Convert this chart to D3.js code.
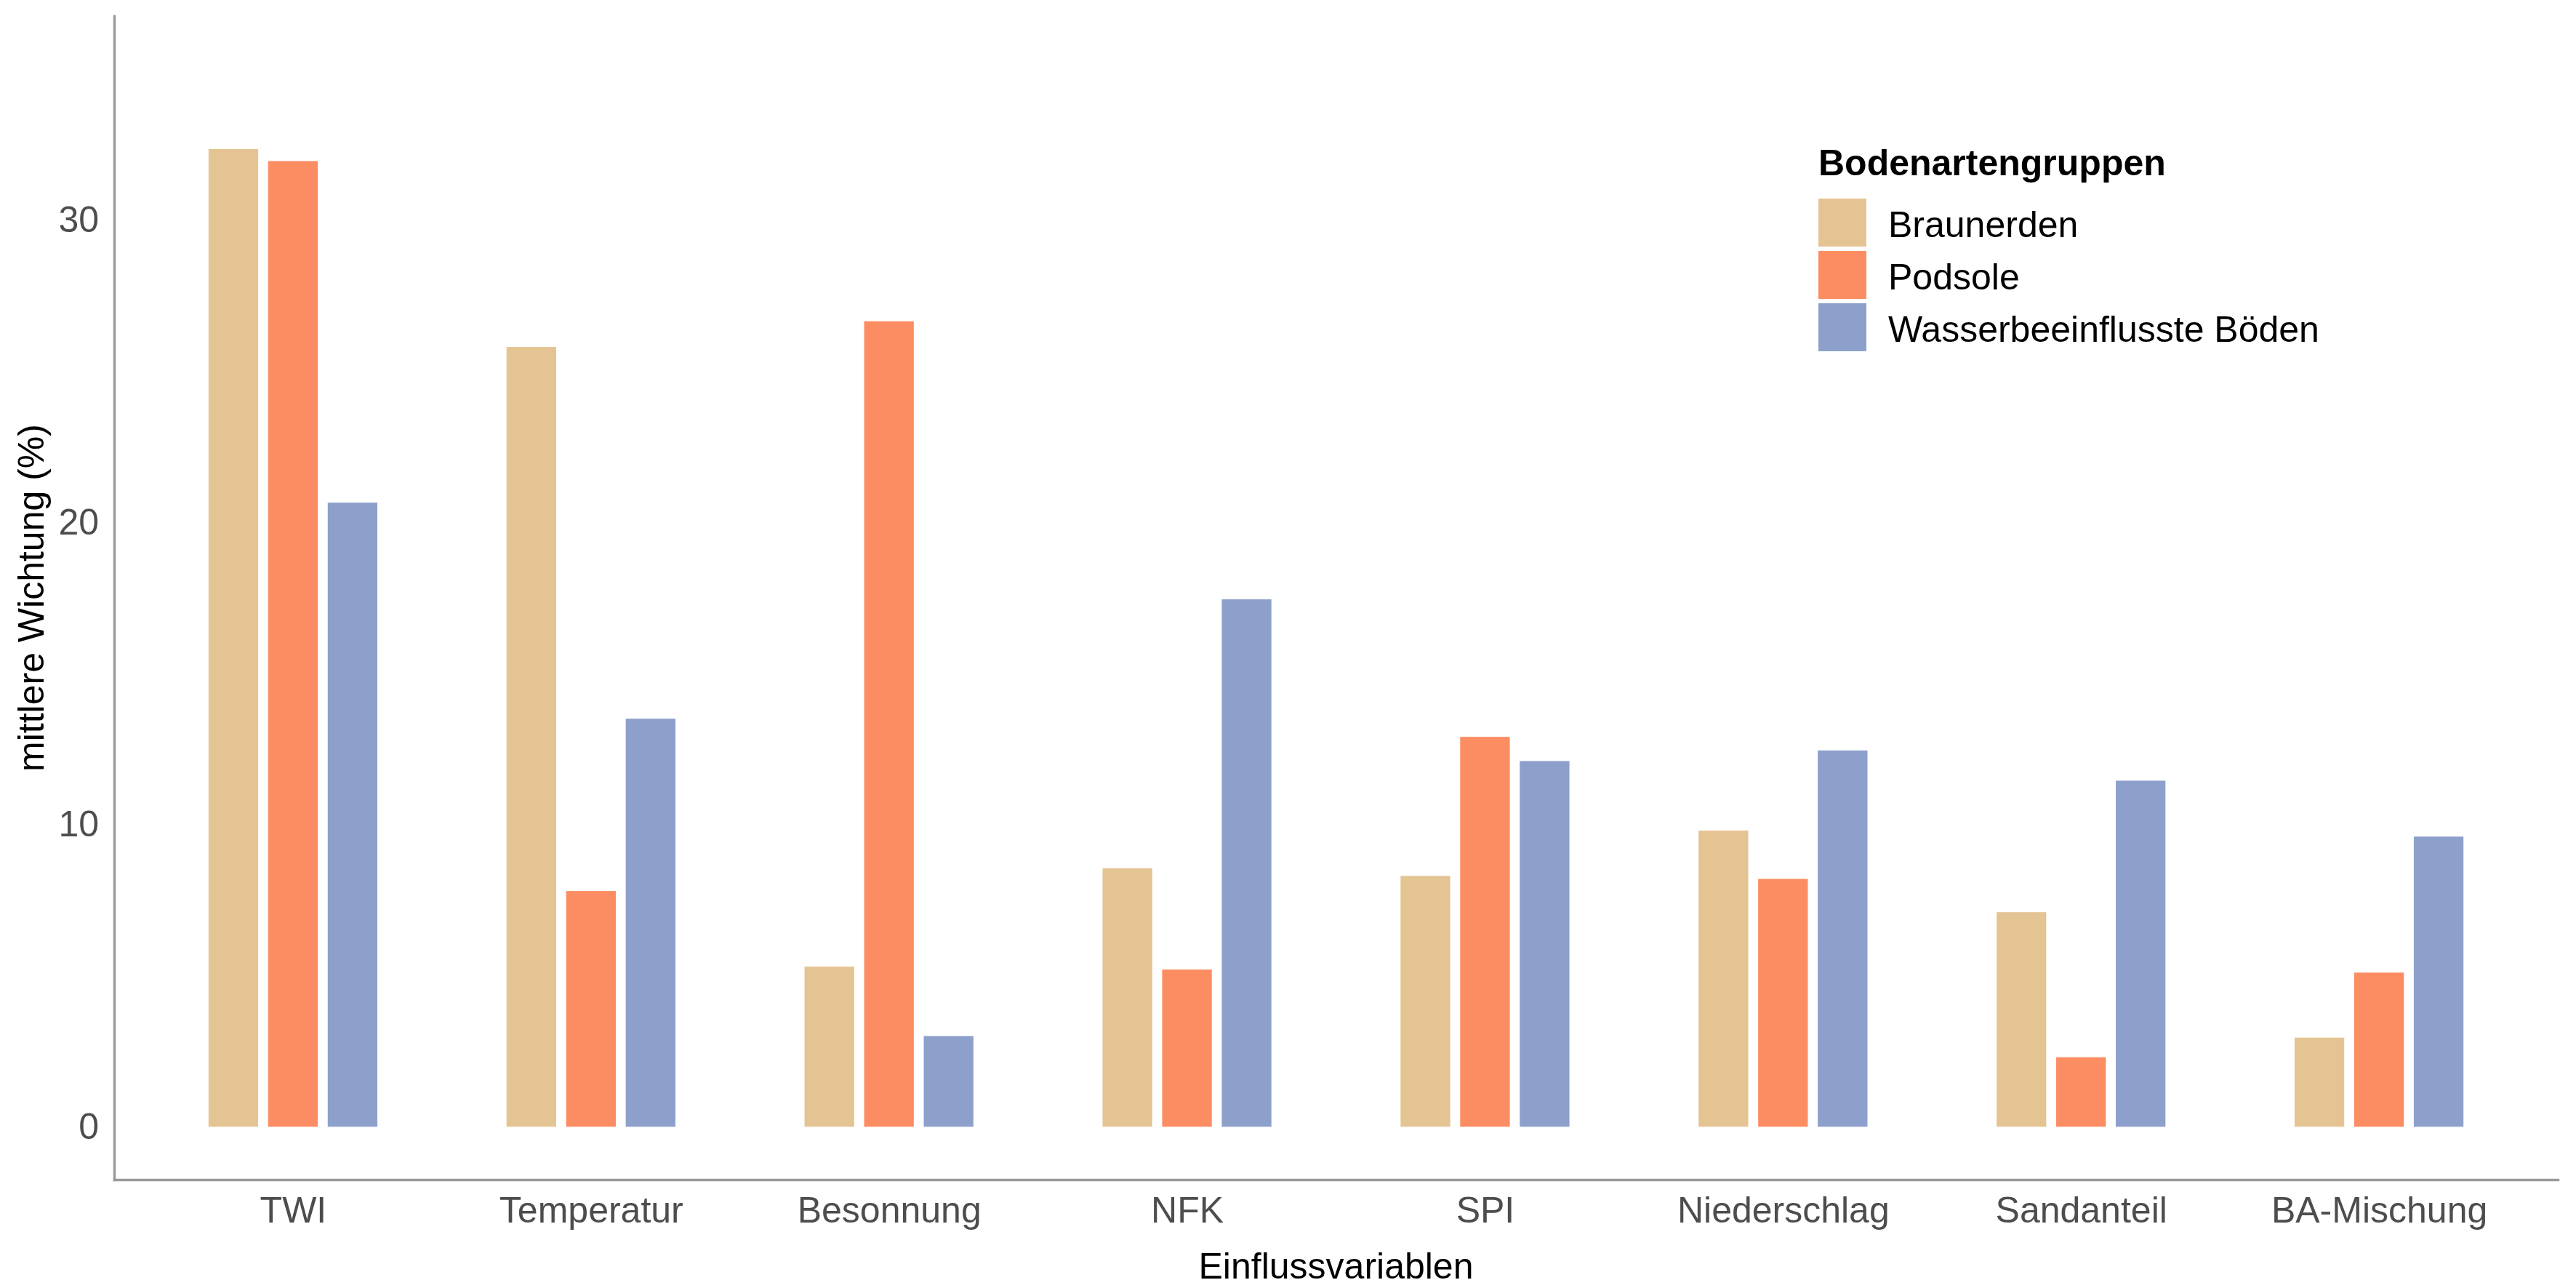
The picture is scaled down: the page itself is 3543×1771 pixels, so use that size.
<!DOCTYPE html>
<html>
<head>
<meta charset="utf-8">
<script src="https://cdn.jsdelivr.net/npm/d3@7"></script>
<style>
  body { margin: 0; background: white; }
  text { font-family: "Liberation Sans", Arial, sans-serif; }
</style>
</head>
<body>
<div id="chart"></div>
<script>
// Data
const categories = ["TWI", "Temperatur", "Besonnung", "NFK", "SPI", "Niederschlag", "Sandanteil", "BA-Mischung"];
const groups = ["Braunerden", "Podsole", "Wasserbeeinflusste Böden"];
const braunerden = [32.35, 25.8, 5.3, 8.55, 8.3, 9.8, 7.1, 2.95];
const podsole = [31.95, 7.8, 26.65, 5.2, 12.9, 8.2, 2.3, 5.1];
const wasser = [20.65, 13.5, 3.0, 17.45, 12.1, 12.45, 11.45, 9.6];
const yTicks = [0, 10, 20, 30];
const colors = ["#E5C494", "#FC8D62", "#8DA0CB"];

const seriesValues = [braunerden, podsole, wasser];
const rows = [];
categories.forEach((c, i) => {
    groups.forEach((g, j) => rows.push({ cat: c, group: g, value: seriesValues[j][i] }));
});

// Dimensions
const W = 3543, H = 1771;
const plot = { left: 157, right: 3518, top: 22, bottom: 1622 };
const fontSize = 50;

const svg = d3.select("#chart")
    .append("svg")
    .attr("width", W)
    .attr("height", H)
    .style("background-color", "white");

// Scales
const x0 = d3.scalePoint()
    .domain(categories)
    .range([plot.left, plot.right])
    .padding(0.6);
const step = x0.step();

const x1 = d3.scaleBand()
    .domain(groups)
    .range([-0.3 * step, 0.3 * step])
    .paddingInner(1 / 6)
    .paddingOuter(1 / 12);

const y = d3.scaleLinear()
    .domain([-1.75, 36.75])
    .range([plot.bottom, plot.top]);

const color = d3.scaleOrdinal().domain(groups).range(colors);

// Bars
svg.append("g")
    .selectAll("rect")
    .data(rows)
    .join("rect")
    .attr("x", d => x0(d.cat) + x1(d.group))
    .attr("width", x1.bandwidth())
    .attr("y", d => y(d.value))
    .attr("height", d => y(0) - y(d.value))
    .attr("fill", d => color(d.group));

// Axes
const yAxis = svg.append("g")
    .attr("transform", `translate(${plot.left},0)`)
    .call(d3.axisLeft(y).tickValues(yTicks).tickSize(0).tickSizeOuter(0).tickPadding(21));

const xAxis = svg.append("g")
    .attr("transform", `translate(0,${plot.bottom})`)
    .call(d3.axisBottom(x0).tickSize(0).tickSizeOuter(0).tickPadding(23));

[yAxis, xAxis].forEach(a => {
    a.select(".domain")
        .attr("stroke", "#9A9A9A")
        .attr("stroke-width", 3.5)
        .attr("stroke-linecap", "square");
    a.selectAll("text")
        .attr("fill", "#4D4D4D")
        .style("font-size", fontSize + "px")
        .style("font-family", "'Liberation Sans', Arial, sans-serif");
});

// Axis titles
svg.append("text")
    .attr("text-anchor", "middle")
    .attr("x", (plot.left + plot.right) / 2)
    .attr("y", 1758)
    .style("font-size", fontSize + "px")
    .attr("fill", "black")
    .text("Einflussvariablen");

svg.append("text")
    .attr("text-anchor", "middle")
    .attr("transform", `translate(60,${(plot.top + plot.bottom) / 2}) rotate(-90)`)
    .style("font-size", fontSize + "px")
    .attr("fill", "black")
    .text("mittlere Wichtung (%)");

// Legend
const legend = svg.append("g").attr("transform", "translate(2501,0)");

legend.append("text")
    .attr("x", 0)
    .attr("y", 241)
    .style("font-size", fontSize + "px")
    .style("font-weight", "bold")
    .attr("fill", "black")
    .text("Bodenartengruppen");

const keySize = 66, keyStep = 72, keyTop = 273;
const items = legend.selectAll("g.item")
    .data(groups)
    .join("g")
    .attr("class", "item")
    .attr("transform", (d, i) => `translate(0,${keyTop + i * keyStep})`);

items.append("rect")
    .attr("width", keySize)
    .attr("height", keySize)
    .attr("fill", d => color(d));

items.append("text")
    .attr("x", 96)
    .attr("y", 53)
    .style("font-size", fontSize + "px")
    .attr("fill", "black")
    .text(d => d);
</script>
</body>
</html>
